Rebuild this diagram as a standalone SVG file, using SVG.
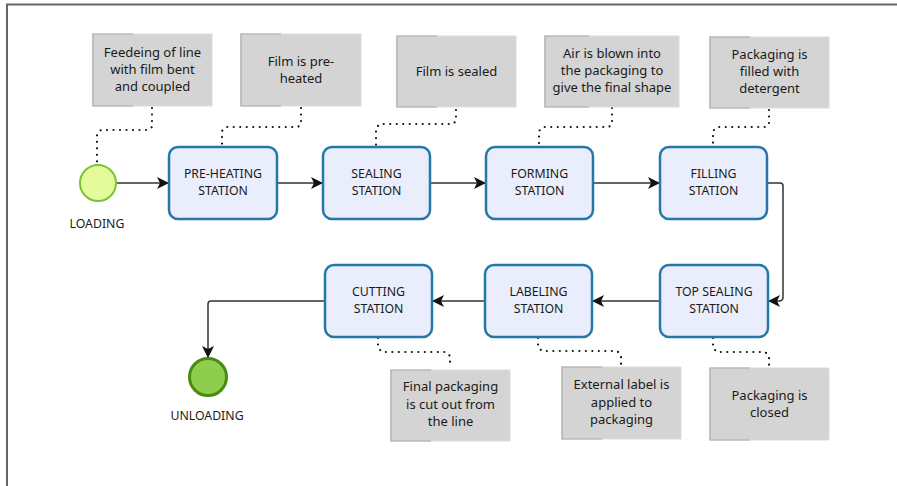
<svg xmlns="http://www.w3.org/2000/svg" width="897" height="486" viewBox="0 0 897 486">
<style>
.note rect{fill:#d4d4d4;stroke:#dcdcdc;stroke-width:1}
.note path{fill:none;stroke:#a8a8a8;stroke-width:1.2}
.note text{font-size:13px}
.st rect{fill:#eaeefc;stroke:#2577a8;stroke-width:2.5}
text{font-family:"Noto Sans","Open Sans","DejaVu Sans",sans-serif;font-size:12.3px;fill:#1a1a1a;text-anchor:middle}
.flow{fill:none;stroke:#333;stroke-width:1.5}
.assoc{fill:none;stroke:#111;stroke-width:2.2;stroke-dasharray:0 6.5;stroke-linecap:round;stroke-linejoin:round}
</style>
<defs>
<marker id="arr" viewBox="0 0 12 12" refX="11" refY="6" markerWidth="12" markerHeight="12" markerUnits="userSpaceOnUse" orient="auto">
<path d="M0,0 L12,6 L0,12 L3,6 Z" fill="#111"/>
</marker>
</defs>
<rect x="0" y="0" width="897" height="486" fill="#fff"/>
<path d="M7,486 V4.5 H897" fill="none" stroke="#666" stroke-width="2"/>

<g id="connectors">
<path class="flow" d="M117,183 H168" marker-end="url(#arr)"/>
<path class="flow" d="M277,183 H322" marker-end="url(#arr)"/>
<path class="flow" d="M430,183 H485" marker-end="url(#arr)"/>
<path class="flow" d="M593,183 H659" marker-end="url(#arr)"/>
<path class="flow" d="M767,183 H780 Q783,183 783,186 V297 Q783,301 779,301 H769" marker-end="url(#arr)"/>
<path class="flow" d="M660,301 H593" marker-end="url(#arr)"/>
<path class="flow" d="M485,301 H433" marker-end="url(#arr)"/>
<path class="flow" d="M325,301 H211 Q208,301 208,304 V357" marker-end="url(#arr)"/>
<path class="assoc" d="M152,108 V127 L148,130 H101 L97,134 V164"/>
<path class="assoc" d="M301,108 V124 L298,127 H226 L222,131 V147"/>
<path class="assoc" d="M456,110 V121 L453,124 H380 L376,128 V146"/>
<path class="assoc" d="M612,108 V124 L609,127 H543 L539,131 V146"/>
<path class="assoc" d="M769,110 V124 L766,127 H717 L713,131 V146"/>
<path class="assoc" d="M378,338 V348 L382,352 H446 L450,356 V368"/>
<path class="assoc" d="M538,338 V347 L542,351 H617 L621,355 V366"/>
<path class="assoc" d="M713,338 V348 L717,352 H765 L769,356 V366"/>
</g>

<g id="note1" class="note"><rect x="93" y="34" width="119" height="72"/><path d="M133,34 H93 V106 H133"/>
<text x="152.5" y="57">Feedeing of line</text><text x="152.5" y="74">with film bent</text><text x="152.5" y="91">and coupled</text></g>
<g id="note2" class="note"><rect x="241" y="34" width="120" height="72"/><path d="M281,34 H241 V106 H281"/>
<text x="301" y="66">Film is pre-</text><text x="301" y="83">heated</text></g>
<g id="note3" class="note"><rect x="397" y="36" width="119" height="71"/><path d="M437,36 H397 V107 H437"/>
<text x="456.5" y="76">Film is sealed</text></g>
<g id="note4" class="note"><rect x="545" y="36" width="134" height="71"/><path d="M589,36 H545 V107 H589"/>
<text x="612" y="58">Air is blown into</text><text x="612" y="75">the packaging to</text><text x="612" y="92">give the final shape</text></g>
<g id="note5" class="note"><rect x="710" y="37" width="119" height="71"/><path d="M750,37 H710 V108 H750"/>
<text x="769.5" y="59">Packaging is</text><text x="769.5" y="76">filled with</text><text x="769.5" y="93">detergent</text></g>
<g id="note6" class="note"><rect x="391" y="370" width="119" height="71"/><path d="M431,370 H391 V441 H431"/>
<text x="450.5" y="391">Final packaging</text><text x="450.5" y="409">is cut out from</text><text x="450.5" y="426">the line</text></g>
<g id="note7" class="note"><rect x="562" y="367" width="119" height="72"/><path d="M602,367 H562 V439 H602"/>
<text x="621.5" y="389">External label is</text><text x="621.5" y="407">applied to</text><text x="621.5" y="424">packaging</text></g>
<g id="note8" class="note"><rect x="710" y="368" width="119" height="72"/><path d="M750,368 H710 V440 H750"/>
<text x="769.5" y="400">Packaging is</text><text x="769.5" y="417">closed</text></g>

<g id="loading"><circle cx="98" cy="183" r="18" fill="#e4fb9c" stroke="#7bc234" stroke-width="2"/><text x="97" y="228">LOADING</text></g>
<g id="unloading"><circle cx="208" cy="377" r="18.5" fill="#8ece4c" stroke="#4a8a12" stroke-width="3"/><text x="207" y="420">UNLOADING</text></g>

<g id="preheating" class="st"><rect x="169" y="147" width="108" height="72" rx="9"/><text x="223" y="178">PRE-HEATING</text><text x="223" y="195">STATION</text></g>
<g id="sealing" class="st"><rect x="323" y="147" width="107" height="72" rx="9"/><text x="376.5" y="178">SEALING</text><text x="376.5" y="195">STATION</text></g>
<g id="forming" class="st"><rect x="486" y="147" width="107" height="72" rx="9"/><text x="539.5" y="178">FORMING</text><text x="539.5" y="195">STATION</text></g>
<g id="filling" class="st"><rect x="660" y="147" width="107" height="72" rx="9"/><text x="713.5" y="178">FILLING</text><text x="713.5" y="195">STATION</text></g>
<g id="topsealing" class="st"><rect x="660" y="265" width="108" height="72" rx="9"/><text x="714" y="296">TOP SEALING</text><text x="714" y="313">STATION</text></g>
<g id="labeling" class="st"><rect x="485" y="265" width="107" height="72" rx="9"/><text x="538.5" y="296">LABELING</text><text x="538.5" y="313">STATION</text></g>
<g id="cutting" class="st"><rect x="325" y="265" width="107" height="72" rx="9"/><text x="378.5" y="296">CUTTING</text><text x="378.5" y="313">STATION</text></g>
</svg>
